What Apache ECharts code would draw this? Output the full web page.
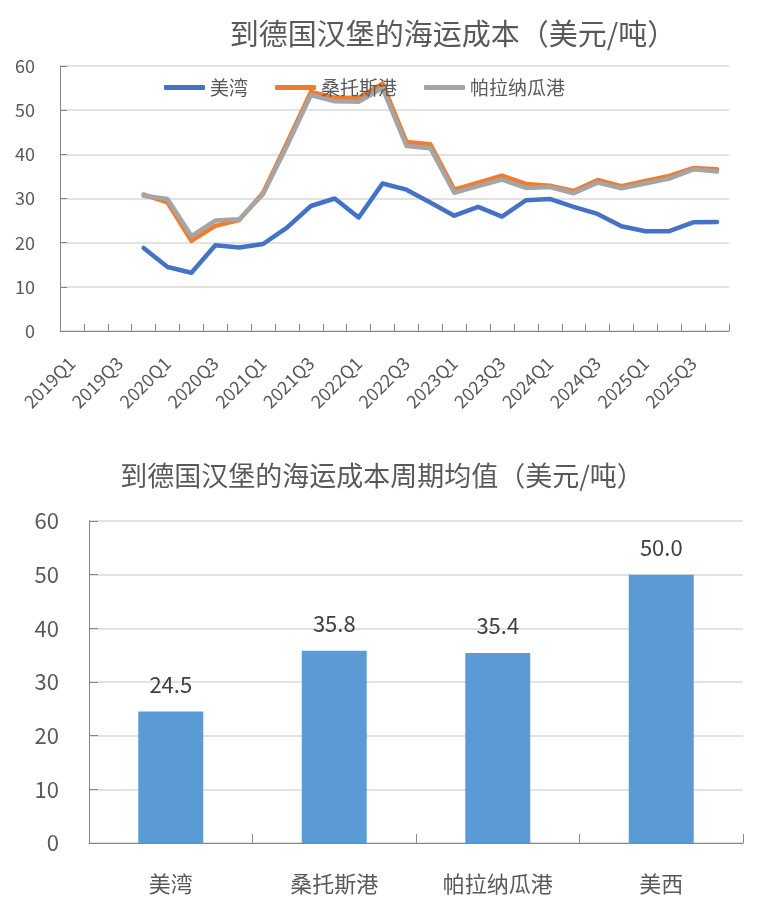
<!DOCTYPE html>
<html>
<head>
<meta charset="utf-8">
<script src="https://cdn.jsdelivr.net/npm/echarts@6/dist/echarts.min.js"></script>
<style>
  html, body { margin: 0; padding: 0; background: #fff; }
  #main { width: 767px; height: 919px; }
</style>
</head>
<body>
<div id="main"></div>
<script>
// quarterly categories 2019Q1 .. 2025Q4
const quarters = [];
for (let y = 2019; y <= 2025; y++) {
  for (let q = 1; q <= 4; q++) quarters.push(y + 'Q' + q);
}

// data starts at 2019Q4 (first three quarters empty)
const gulfCost = [null, null, null,
  18.8, 14.5, 13.2, 19.4, 18.9, 19.7, 23.4, 28.3, 30.0, 25.7,
  33.4, 32.0, 29.1, 26.1, 28.1, 25.9, 29.6, 29.9, 28.1, 26.5,
  23.7, 22.6, 22.6, 24.6, 24.7];
const santosCost = [null, null, null,
  30.9, 29.1, 20.4, 23.8, 25.1, 31.3, 42.6, 54.1, 52.8, 52.8,
  56.0, 42.8, 42.3, 32.0, 33.6, 35.2, 33.3, 32.9, 31.7, 34.2,
  32.8, 34.0, 35.1, 36.9, 36.6];
const paranaguaCost = [null, null, null,
  30.6, 29.9, 21.5, 25.0, 25.3, 31.0, 41.9, 53.4, 52.0, 51.9,
  55.0, 41.9, 41.4, 31.3, 32.8, 34.3, 32.4, 32.6, 31.2, 33.6,
  32.3, 33.4, 34.5, 36.6, 36.1];

const barNames = ['美湾', '桑托斯港', '帕拉纳瓜港', '美西'];
const barValues = [24.5, 35.8, 35.4, 50.0];

const font = '"Noto Sans CJK SC", "Noto Sans", sans-serif';
const labelGray = '#595959';
const gridGray = '#D9D9D9';
const axisGray = '#868686';

const chart = echarts.init(document.getElementById('main'));

const option = {
  textStyle: { fontFamily: font },
  animation: false,
  title: [
    {
      text: '到德国汉堡的海运成本（美元/吨）',
      left: 448, top: 14, textAlign: 'center',
      textStyle: { fontSize: 29, fontWeight: 'normal', color: labelGray, fontFamily: font }
    },
    {
      text: '到德国汉堡的海运成本周期均值（美元/吨）',
      left: 377, top: 457, textAlign: 'center',
      textStyle: { fontSize: 27, fontWeight: 'normal', color: labelGray, fontFamily: font }
    }
  ],
  legend: {
    data: ['美湾', '桑托斯港', '帕拉纳瓜港'],
    left: 159, top: 73,
    icon: 'roundRect',
    itemWidth: 41, itemHeight: 5, itemGap: 27,
    textStyle: { fontSize: 19, color: labelGray, fontFamily: font }
  },
  grid: [
    { left: 60, right: 38, top: 66, height: 265, containLabel: false },
    { left: 89, right: 24, top: 521, height: 322, containLabel: false }
  ],
  xAxis: [
    {
      type: 'category', gridIndex: 0, data: quarters, boundaryGap: true,
      axisLine: { lineStyle: { color: axisGray, width: 1 } },
      axisTick: { show: true, inside: true, length: 7, interval: 0, lineStyle: { color: axisGray } },
      axisLabel: { interval: 1, rotate: 45, fontSize: 18, color: labelGray, margin: 29 }
    },
    {
      type: 'category', gridIndex: 1, data: barNames,
      axisLine: { lineStyle: { color: axisGray, width: 1 } },
      axisTick: { show: true, inside: true, length: 9, lineStyle: { color: axisGray } },
      axisLabel: { fontSize: 22, color: labelGray, margin: 30 }
    }
  ],
  yAxis: [
    {
      type: 'value', gridIndex: 0, min: 0, max: 60, interval: 10,
      axisLine: { show: true, lineStyle: { color: axisGray, width: 1 } },
      axisTick: { show: true, inside: true, length: 7, lineStyle: { color: axisGray } },
      splitLine: { lineStyle: { color: gridGray, width: 1.5 } },
      axisLabel: { fontSize: 18, color: labelGray, margin: 25 }
    },
    {
      type: 'value', gridIndex: 1, min: 0, max: 60, interval: 10,
      axisLine: { show: true, lineStyle: { color: axisGray, width: 1 } },
      axisTick: { show: true, inside: true, length: 9, lineStyle: { color: axisGray } },
      splitLine: { lineStyle: { color: gridGray, width: 1.5 } },
      axisLabel: { fontSize: 22, color: labelGray, margin: 30 }
    }
  ],
  series: [
    {
      name: '美湾', type: 'line', xAxisIndex: 0, yAxisIndex: 0,
      data: gulfCost, symbol: 'none', color: '#4472C4',
      lineStyle: { width: 4.5, color: '#4472C4', cap: 'round', join: 'round' }
    },
    {
      name: '桑托斯港', type: 'line', xAxisIndex: 0, yAxisIndex: 0,
      data: santosCost, symbol: 'none', color: '#ED7D31',
      lineStyle: { width: 4.5, color: '#ED7D31', cap: 'round', join: 'round' }
    },
    {
      name: '帕拉纳瓜港', type: 'line', xAxisIndex: 0, yAxisIndex: 0,
      data: paranaguaCost, symbol: 'none', color: '#A5A5A5',
      lineStyle: { width: 4.5, color: '#A5A5A5', cap: 'round', join: 'round' }
    },
    {
      name: '均值', type: 'bar', xAxisIndex: 1, yAxisIndex: 1,
      data: barValues, barWidth: 65,
      itemStyle: { color: '#5B9BD5' },
      label: {
        show: true, position: 'top', distance: 16,
        fontSize: 22, color: '#404040',
        formatter: p => p.value.toFixed(1)
      }
    }
  ]
};

chart.setOption(option);
</script>
</body>
</html>
